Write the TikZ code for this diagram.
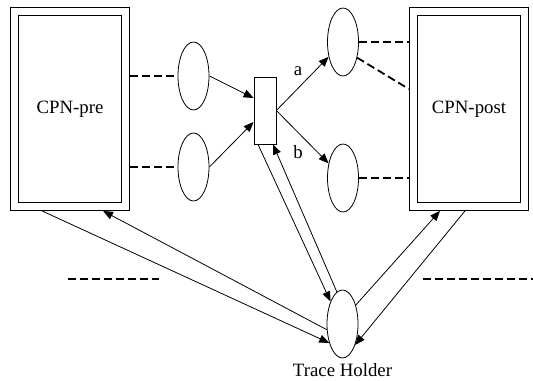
\documentclass[tikz,border=0pt]{standalone}
\usepackage{fontspec}
\setmainfont{Liberation Serif}
\usetikzlibrary{arrows.meta,shapes.geometric}
\begin{document}
\begin{tikzpicture}[x=0.5pt,y=-0.5pt,
    font=\fontsize{9.4}{11}\selectfont,
    tplace/.style={draw,ellipse,inner sep=0pt,minimum width=15.5pt,minimum height=34pt},
    cpnbox/.style={draw,double,double distance=3.6pt,outer sep=2.2pt,minimum width=55.75pt,minimum height=97.5pt},
    ttrans/.style={draw,inner sep=0pt,minimum width=11pt,minimum height=33.5pt},
    dashlink/.style={dash pattern=on 4pt off 2pt,line width=0.9pt},
    flow/.style={-{Triangle[length=5pt,width=4pt]}}]
    \useasboundingbox (0,0) rectangle (533,380);

    \node[cpnbox] (pre) at (70,109) {CPN-pre};
    \node[cpnbox] (post) at (469,109) {CPN-post};
    \node[tplace] (e1) at (193.5,76) {};
    \node[tplace] (e2) at (193.5,167) {};
    \node[ttrans] (tr) at (265,110.5) {};
    \node[tplace] (p1) at (343,42) {};
    \node[tplace] (p2) at (343,178) {};
    \node[tplace,label={[label distance=-1pt]below:Trace Holder}] (th) at (342.5,324) {};

    \draw[dashlink] (pre.east |- e1.west) -- (e1.west);
    \draw[dashlink] (pre.east |- e2.west) -- (e2.west);
    \draw[dashlink] (p1.east) -- (p1.east -| post.west);
    \draw[dashlink] (p1.-48) -- ([yshift=10pt]post.west);
    \draw[dashlink] (p2.east) -- (p2.east -| post.west);

    \draw[flow] (e1.east) -- ([yshift=6.25pt]tr.west);
    \draw[flow] (e2.east) -- ([yshift=-5.75pt]tr.west);
    \draw[flow] (tr.east) -- node[midway,xshift=-2.25pt,yshift=6pt] {a} (p1);
    \draw[flow] (tr.east) -- node[midway,xshift=-2.25pt,yshift=-7.5pt] {b} (p2);

    \draw[flow] ([xshift=-3.5pt]tr.south) -- (th.118);
    \draw[flow] (th.100) -- ([xshift=4pt]tr.south);
    \draw[flow] ([xshift=-14pt]pre.south) -- (th.235);
    \draw[flow] (th.200) -- ([xshift=16.5pt]pre.south);
    \draw[flow] (th.55) -- ([xshift=-14.5pt]post.south);
    \draw[flow] ([xshift=-2pt]post.south) -- (th.-59);

    \draw[dashlink] (68,279) -- (159,279);
    \draw[dashlink] (423,279) -- (533,279);
  \end{tikzpicture}
\end{document}
